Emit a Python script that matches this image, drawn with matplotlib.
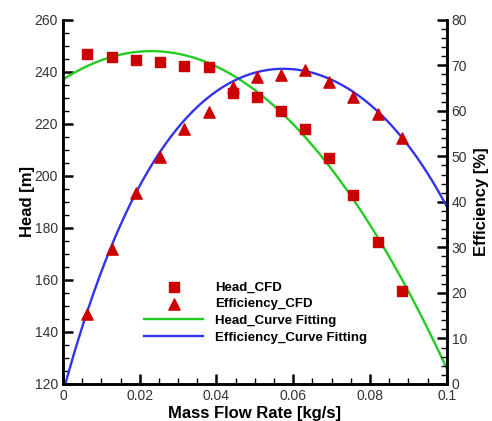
import numpy as np
import matplotlib.pyplot as plt
from matplotlib.ticker import MultipleLocator

plt.rcParams['font.family'] = ['Liberation Sans', 'DejaVu Sans']

# CFD results
flow = [0.00625, 0.0127, 0.019, 0.0253, 0.0315, 0.038, 0.0443,
        0.0505, 0.0568, 0.063, 0.0693, 0.0755, 0.082, 0.0883]
head_cfd = [246.9, 245.8, 244.6, 243.8, 242.3, 241.9, 231.9,
            230.4, 225.0, 218.0, 207.0, 192.7, 174.6, 155.8]
eff_cfd = [15.4, 29.7, 42.0, 49.9, 56.0, 59.8, 65.3,
           67.5, 67.9, 69.0, 66.4, 63.1, 59.3, 54.0]

# points
head_curve_x = [0.0, 0.0227, 0.0505, 0.063, 0.082, 0.1]
head_curve_y = [237.3, 247.4, 232.0, 216.5, 175.5, 126.2]
eff_curve_x = [0.0005, 0.0065, 0.019, 0.0253, 0.0315, 0.038, 0.0443, 0.0505,
               0.0568, 0.063, 0.0693, 0.0755, 0.082, 0.0883, 0.1]
eff_curve_y = [0.0, 15.5, 43.0, 51.0, 57.6, 62.4, 66.1, 68.8,
               69.7, 69.2, 67.0, 63.7, 59.5, 54.7, 38.9]

x = np.array(flow)
xs = np.linspace(0, 0.1, 300)
head_fit = np.polyval(np.polyfit(head_curve_x, head_curve_y, 2), xs)
eff_fit = np.polyval(np.polyfit(eff_curve_x, eff_curve_y, 4), xs)

red = '#cc0000'
fig = plt.figure(figsize=(4.92, 4.21), dpi=100)
ax = fig.add_axes([0.128, 0.088, 0.78, 0.865])
ax2 = ax.twinx()

ax.plot(xs, head_fit, color='#22cc22', lw=1.7, label='Head_Curve Fitting')
ax2.plot(xs, eff_fit, color='#3333ee', lw=1.7, label='Efficiency_Curve Fitting')
ax.scatter(x, head_cfd, marker='s', s=55, color=red, zorder=3, label='Head_CFD')
ax2.scatter(x, eff_cfd, marker='^', s=65, color=red, zorder=3, label='Efficiency_CFD')

ax.set_xlim(0, 0.1)
ax.set_ylim(120, 260)
ax2.set_ylim(0, 80)
ax.set_xticks(np.arange(0, 0.101, 0.02))
ax.set_xticklabels(['0', '0.02', '0.04', '0.06', '0.08', '0.1'])
ax.xaxis.set_minor_locator(MultipleLocator(0.005))
ax.yaxis.set_major_locator(MultipleLocator(20))
ax.yaxis.set_minor_locator(MultipleLocator(5))
ax2.yaxis.set_major_locator(MultipleLocator(10))
ax2.yaxis.set_minor_locator(MultipleLocator(2))

for a in (ax, ax2):
    a.spines['top'].set_visible(False)
    for s in a.spines.values():
        s.set_linewidth(1.8)
    a.tick_params(which='major', direction='in', length=7, width=1.8,
                  labelsize=10, labelcolor='#333333')
    a.tick_params(which='minor', direction='in', length=4, width=1)

ax.set_xlabel('Mass Flow Rate [kg/s]', fontsize=12, fontweight='bold', labelpad=2)
ax.set_ylabel('Head [m]', fontsize=12, fontweight='bold', labelpad=0)
ax2.set_ylabel('Efficiency [%]', fontsize=12, fontweight='bold', labelpad=5)

h1, l1 = ax.get_legend_handles_labels()
h2, l2 = ax2.get_legend_handles_labels()
hd = dict(zip(l1 + l2, h1 + h2))
order = ['Head_CFD', 'Efficiency_CFD', 'Head_Curve Fitting', 'Efficiency_Curve Fitting']
ax2.legend([hd[k] for k in order], order, loc='upper left',
           bbox_to_anchor=(0.18, 0.315), frameon=False,
           prop={'weight': 'bold', 'size': 9.5}, handlelength=4.5,
           handletextpad=0.9, labelspacing=0.35, scatterpoints=1)

fig.savefig('out.png', dpi=100)
